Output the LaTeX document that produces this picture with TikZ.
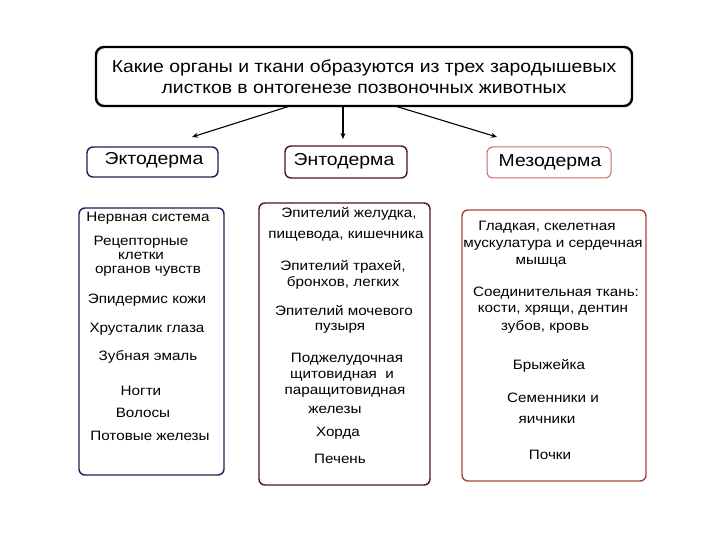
\documentclass[tikz,border=0pt]{standalone}
\usepackage{fontspec}
\setmainfont[FakeStretch=1.12]{Liberation Sans}
\usetikzlibrary{arrows.meta}
\definecolor{ecto}{HTML}{1E1E5A}
\definecolor{endo}{HTML}{4E1422}
\definecolor{meso}{HTML}{A8443E}
\definecolor{mesolt}{HTML}{C86A64}
\begin{document}
\begin{tikzpicture}[x=1pt,y=-1pt,
  box/.style={draw,line width=1.4pt,rounded corners=6pt},
  txt/.style={inner sep=0pt,font=\fontsize{13.6}{15}\selectfont},
  hdr/.style={inner sep=0pt,font=\fontsize{17.3}{19}\selectfont},
  arr/.style={line width=1.1pt,-{Stealth[length=6pt,width=5pt]}}]
\useasboundingbox (0,0) rectangle (720,540);
% title
\draw[line width=2.4pt,rounded corners=8pt] (96,47) rectangle (632,106);
\node[hdr] (t1) at (364,68) {Какие органы и ткани образуются из трех зародышевых};
\node[hdr] (t2) at (364,89) {листков в онтогенезе позвоночных животных};
\node (title) at (364,76.5) [minimum width=536pt,minimum height=59pt,inner sep=0pt] {};
% germ layer boxes
\node[box,draw=ecto,minimum width=131pt,minimum height=30pt,inner sep=0pt] (ecto) at (152.5,162) {};
\node[hdr] (ectot) at (154,160) {Эктодерма};
\node[box,draw=endo,minimum width=122pt,minimum height=32pt,inner sep=0pt] (endo) at (346,162) {};
\node[hdr] (endot) at (344,161) {Энтодерма};
\node[box,draw=mesolt,line width=1pt,minimum width=124pt,minimum height=31pt,inner sep=0pt] (meso) at (549,162.5) {};
\node[hdr] (mesot) at (550,162) {Мезодерма};
% arrows
\coordinate (s1) at (290,106);
\coordinate (s2) at (343,106);
\coordinate (s3) at (395,106);
\coordinate (e1) at (192,137);
\coordinate (e2) at (343,139);
\coordinate (e3) at (497,137);
\draw[arr] (s1) -- (e1);
\draw[arr] (s2) -- (e2);
\draw[arr] (s3) -- (e3);
% columns
\draw[box,draw=ecto] (79,208) rectangle (224,475);
\draw[box,draw=endo] (259,203) rectangle (430,485);
\draw[box,draw=meso] (462,210) rectangle (646,481);
% ectoderm
\node[txt] (a1) at (148,218) {Нервная система};
\node[txt] (a2) at (141,242) {Рецепторные};
\node[txt] (a3) at (141,256) {клетки};
\node[txt] (a4) at (148,271) {органов чувств};
\node[txt] (a5) at (147,300) {Эпидермис кожи};
\node[txt] (a6) at (147,329) {Хрусталик глаза};
\node[txt] (a7) at (148,357) {Зубная эмаль};
\node[txt] (a8) at (141,391) {Ногти};
\node[txt] (a9) at (143,413) {Волосы};
\node[txt] (a10) at (150,436) {Потовые железы};
% entoderm
\node[txt] (b1) at (349,214) {Эпителий желудка,};
\node[txt] (b2) at (346,236) {пищевода, кишечника};
\node[txt] (b3) at (343,267) {Эпителий трахей,};
\node[txt] (b4) at (343,283) {бронхов, легких};
\node[txt] (b5) at (344,311) {Эпителий мочевого};
\node[txt] (b6) at (340,328) {пузыря};
\node[txt] (b7) at (347,359) {Поджелудочная};
\node[txt] (b8) at (342,376) {щитовидная\ \ и};
\node[txt] (b9) at (345,392) {паращитовидная};
\node[txt] (b10) at (335,410) {железы};
\node[txt] (b11) at (338,433) {Хорда};
\node[txt] (b12) at (340,459) {Печень};
% mesoderm
\node[txt] (c1) at (547,227) {Гладкая, скелетная};
\node[txt] (c2) at (553,245) {мускулатура и сердечная};
\node[txt] (c3) at (541,262) {мышца};
\node[txt] (c4) at (556,293) {Соединительная ткань:};
\node[txt] (c5) at (553,310) {кости, хрящи, дентин};
\node[txt] (c6) at (545,327) {зубов, кровь};
\node[txt] (c7) at (549,366) {Брыжейка};
\node[txt] (c8) at (553,398) {Семенники и};
\node[txt] (c9) at (547,420) {яичники};
\node[txt] (c10) at (550,455) {Почки};
\end{tikzpicture}
\end{document}
